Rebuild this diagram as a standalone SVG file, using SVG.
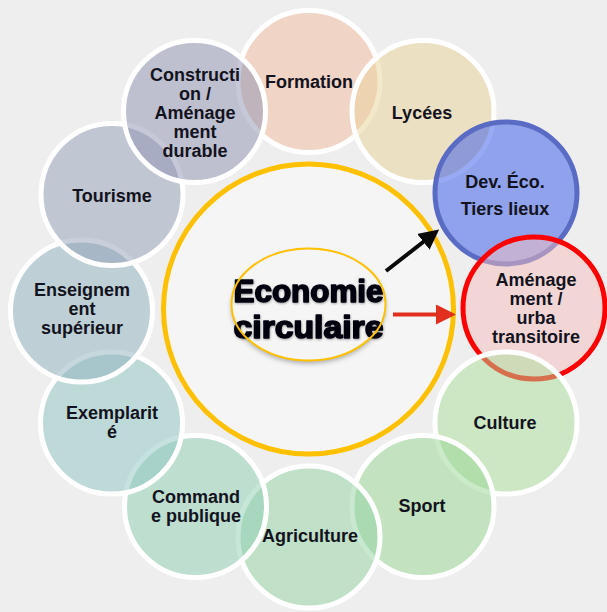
<svg xmlns="http://www.w3.org/2000/svg" width="607" height="612" viewBox="0 0 607 612">
<defs>
<style>
.ring{stroke:#ffffff;stroke-width:5}
.lbl{font-family:"Liberation Sans",Arial,sans-serif;font-weight:bold;font-size:18px;fill:#131320;text-anchor:middle}
.big{font-family:"Liberation Sans",Arial,sans-serif;font-weight:bold;font-size:31px;fill:#05050f;text-anchor:middle;stroke:#05050f;stroke-width:1.6;stroke-linejoin:round}
</style>
<filter id="sh" x="-20%" y="-20%" width="140%" height="150%">
<feDropShadow dx="0" dy="3" stdDeviation="2.5" flood-color="#000" flood-opacity="0.3"/>
</filter>
<filter id="tsh" x="-10%" y="-30%" width="120%" height="160%">
<feDropShadow dx="0.5" dy="1" stdDeviation="1" flood-color="#000" flood-opacity="0.35"/>
</filter>
<marker id="ahK" markerWidth="5" markerHeight="5" refX="4" refY="2.5" orient="auto" markerUnits="strokeWidth">
<path d="M0,0 L5,2.5 L0,5 z" fill="#0a0a0a"/>
</marker>
<marker id="ahR" markerWidth="5" markerHeight="5" refX="4" refY="2.5" orient="auto" markerUnits="strokeWidth">
<path d="M0,0 L5,2.5 L0,5 z" fill="#e2301f"/>
</marker>
</defs>
<rect width="607" height="612" fill="#eeeeee"/>

<g id="node-centre">
<circle cx="308.5" cy="309" r="145" fill="#f5f5f5" stroke="#ffc000" stroke-width="5"/>
<ellipse cx="308.5" cy="304.5" rx="77" ry="56" fill="#f5f5f5" stroke="none" filter="url(#sh)"/>
<g filter="url(#tsh)">
<text class="big" x="308.5" y="302" textLength="150" lengthAdjust="spacingAndGlyphs">Economie</text>
<text class="big" x="308.5" y="338" textLength="150" lengthAdjust="spacingAndGlyphs">circulaire</text>
</g>
<ellipse cx="308.5" cy="304.5" rx="77" ry="56" fill="none" stroke="#ffc000" stroke-width="2"/>
</g>

<g id="node-formation">
<circle class="ring" cx="309" cy="81.5" r="71" fill="rgba(242,188,158,0.5)"/>
<text class="lbl" x="309" y="88">Formation</text>
</g>
<g id="node-lycees">
<circle class="ring" cx="423" cy="111.5" r="71" fill="rgba(234,210,152,0.5)"/>
<text class="lbl" x="422" y="119">Lycées</text>
</g>
<g id="node-deveco">
<circle cx="506" cy="193" r="71" fill="rgba(50,86,234,0.5)" stroke="#5a6bc4" stroke-width="5"/>
<text class="lbl" x="505" y="188">Dev. Éco.</text>
<text class="lbl" x="505" y="215">Tiers lieux</text>
</g>
<g id="node-amenagement">
<circle cx="534" cy="308" r="71" fill="rgba(246,190,190,0.5)" stroke="#ff0000" stroke-width="5"/>
<text class="lbl" x="536" y="286">Aménage</text>
<text class="lbl" x="536" y="305">ment /</text>
<text class="lbl" x="536" y="324">urba</text>
<text class="lbl" x="536" y="343">transitoire</text>
</g>
<g id="node-culture">
<circle class="ring" cx="506" cy="423" r="71" fill="rgba(172,222,154,0.5)"/>
<text class="lbl" x="505" y="429">Culture</text>
</g>
<g id="node-sport">
<circle class="ring" cx="423" cy="506.5" r="71" fill="rgba(150,214,146,0.5)"/>
<text class="lbl" x="422" y="512">Sport</text>
</g>
<g id="node-agriculture">
<circle class="ring" cx="309" cy="537" r="71" fill="rgba(146,210,162,0.5)"/>
<text class="lbl" x="310" y="542">Agriculture</text>
</g>
<g id="node-commande">
<circle class="ring" cx="195.5" cy="506.5" r="71" fill="rgba(142,206,178,0.5)"/>
<text class="lbl" x="196" y="503">Command</text>
<text class="lbl" x="196" y="522">e publique</text>
</g>
<g id="node-exemplarite">
<circle class="ring" cx="111.5" cy="423" r="71" fill="rgba(142,198,194,0.5)"/>
<text class="lbl" x="112" y="419">Exemplarit</text>
<text class="lbl" x="112" y="438">é</text>
</g>
<g id="node-enseignement">
<circle class="ring" cx="81.5" cy="311" r="71" fill="rgba(142,178,190,0.5)"/>
<text class="lbl" x="82" y="296">Enseignem</text>
<text class="lbl" x="82" y="315">ent</text>
<text class="lbl" x="82" y="334">supérieur</text>
</g>
<g id="node-tourisme">
<circle class="ring" cx="112" cy="194.5" r="71" fill="rgba(146,158,182,0.5)"/>
<text class="lbl" x="112" y="202">Tourisme</text>
</g>
<g id="node-construction">
<circle class="ring" cx="194.5" cy="111.5" r="71" fill="rgba(142,146,178,0.5)"/>
<text class="lbl" x="195" y="81">Constructi</text>
<text class="lbl" x="195" y="100">on /</text>
<text class="lbl" x="195" y="119">Aménage</text>
<text class="lbl" x="195" y="138">ment</text>
<text class="lbl" x="195" y="157">durable</text>
</g>

<g id="connectors">
<line x1="386" y1="271" x2="436" y2="232" stroke="#0a0a0a" stroke-width="4" marker-end="url(#ahK)"/>
<line x1="393" y1="314.5" x2="452" y2="314.5" stroke="#e2301f" stroke-width="4" marker-end="url(#ahR)"/>
</g>
</svg>
